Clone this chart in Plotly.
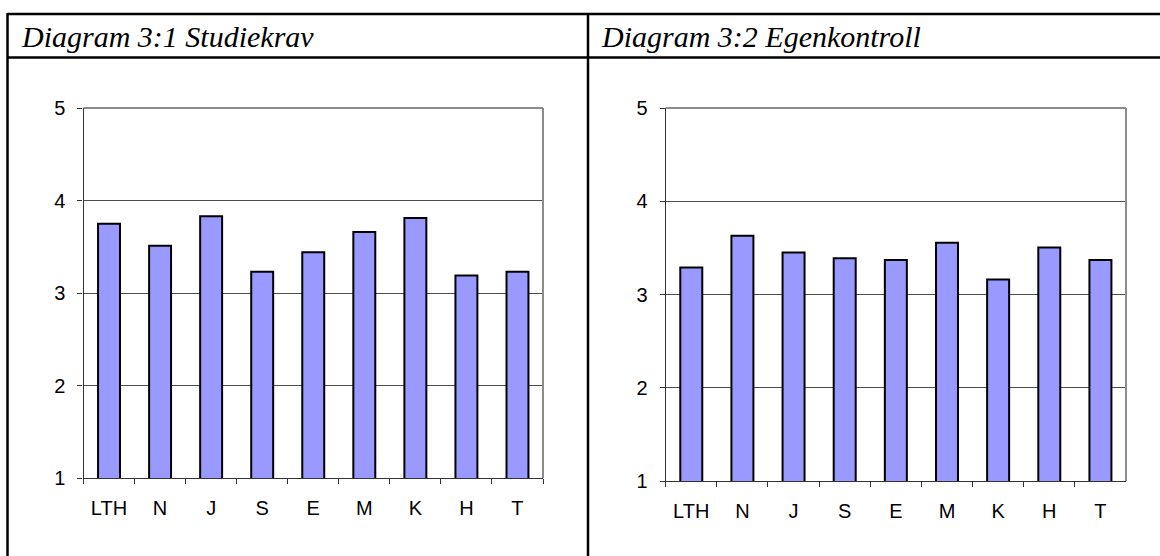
import plotly.graph_objects as go

categories = ["LTH", "N", "J", "S", "E", "M", "K", "H", "T"]
studiekrav = [3.75, 3.51, 3.83, 3.23, 3.44, 3.66, 3.81, 3.19, 3.23]
egenkontroll = [3.29, 3.63, 3.45, 3.39, 3.37, 3.555, 3.16, 3.505, 3.37]
titles = ["Diagram 3:1 Studiekrav", "Diagram 3:2 Egenkontroll"]
y_ticks = [1, 2, 3, 4, 5]

W, H = 1160, 556
BAR_FILL = "#9999FF"
AXIS_FONT = dict(family="'Liberation Sans', Arial, sans-serif", size=20, color="#000000")

fig = go.Figure()
fig.add_trace(go.Bar(x=categories, y=studiekrav, marker=dict(color=BAR_FILL, line=dict(color="#000000", width=2)),
                     width=0.43, xaxis="x", yaxis="y", showlegend=False, hoverinfo="x+y"))
fig.add_trace(go.Bar(x=categories, y=egenkontroll, marker=dict(color=BAR_FILL, line=dict(color="#000000", width=2)),
                     width=0.43, xaxis="x2", yaxis="y2", showlegend=False, hoverinfo="x+y"))

# plot area pixel boxes (left, right, top, bottom)
boxes = [(83.5, 543, 108, 478), (665.7, 1126, 108, 481)]

def xd(px):
    return px / W

def yd(py):
    return 1 - py / H

axis_common_x = dict(type="category", showline=True, linecolor="#333333", linewidth=1.3,
                     ticks="outside", tickson="boundaries", ticklen=5, tickcolor="#333333",
                     showgrid=False, tickfont=AXIS_FONT, ticklabelstandoff=12, fixedrange=True,
                     automargin=False)
axis_common_y = dict(range=[1, 5], tickvals=y_ticks, showline=True, linecolor="#333333", linewidth=1.3,
                     ticks="outside", ticklen=5, tickcolor="#333333", showgrid=True,
                     gridcolor="#4d4d4d", gridwidth=1, tickfont=AXIS_FONT, ticklabelstandoff=8,
                     zeroline=False, fixedrange=True, automargin=False)

l, r, t, b = boxes[0]
fig.update_layout(
    xaxis=dict(domain=[xd(l), xd(r)], anchor="y", **axis_common_x),
    yaxis=dict(domain=[yd(b), yd(t)], anchor="x", **axis_common_y),
)
l, r, t, b = boxes[1]
fig.update_layout(
    xaxis2=dict(domain=[xd(l), xd(r)], anchor="y2", **axis_common_x),
    yaxis2=dict(domain=[yd(b), yd(t)], anchor="x2", **axis_common_y),
)

shapes = []
# gray plot-area borders (top and right)
for (l, r, t, b) in boxes:
    shapes.append(dict(type="line", xref="paper", yref="paper", x0=xd(l), x1=xd(r), y0=yd(t), y1=yd(t),
                       line=dict(color="#8c8c8c", width=2)))
    shapes.append(dict(type="line", xref="paper", yref="paper", x0=xd(r), x1=xd(r), y0=yd(t), y1=yd(b),
                       line=dict(color="#8c8c8c", width=2)))
# table lines
tbl = dict(color="#000000", width=2.5)
shapes.append(dict(type="line", xref="paper", yref="paper", x0=xd(7.5), x1=1.01, y0=yd(14), y1=yd(14), line=tbl))
shapes.append(dict(type="line", xref="paper", yref="paper", x0=xd(7.5), x1=1.01, y0=yd(57.5), y1=yd(57.5), line=tbl))
shapes.append(dict(type="line", xref="paper", yref="paper", x0=xd(7.5), x1=xd(7.5), y0=yd(13), y1=-0.01, line=tbl))
shapes.append(dict(type="line", xref="paper", yref="paper", x0=xd(588), x1=xd(588), y0=yd(13), y1=-0.01, line=tbl))

annotations = []
for title, x0 in zip(titles, [19, 599]):
    annotations.append(dict(text=title, xref="paper", yref="paper", x=xd(x0), y=yd(36),
                            xanchor="left", yanchor="middle", showarrow=False,
                            font=dict(family="'Liberation Serif', 'DejaVu Serif', serif", size=30,
                                      color="#000000", style="italic")))

fig.update_layout(
    width=W, height=H, margin=dict(l=0, r=0, t=0, b=0, autoexpand=False),
    paper_bgcolor="#ffffff", plot_bgcolor="#ffffff",
    shapes=shapes, annotations=annotations, bargap=0.5, showlegend=False,
)

fig.write_html("out.html", config={"displayModeBar": False},
               post_script="document.body.style.margin='0';document.body.style.overflow='hidden';")
